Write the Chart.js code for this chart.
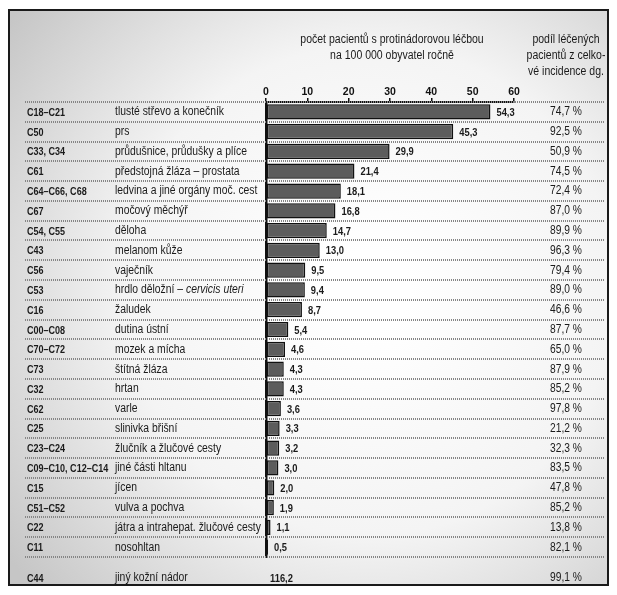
<!DOCTYPE html>
<html>
<head>
<meta charset="utf-8">
<script src="https://cdn.jsdelivr.net/npm/chart.js@4.4.1/dist/chart.umd.min.js"></script>
<style>
  html, body { margin: 0; padding: 0; background: #fff; }
  #wrap { width: 617px; height: 595px; }
</style>
</head>
<body>
<div id="wrap"><canvas id="resultsChart" width="617" height="595"></canvas></div>
<script>
// Diagnosis codes, names, treated patients per 100 000 and share of incidence
const codes = ['C18–C21', 'C50', 'C33, C34', 'C61', 'C64–C66, C68', 'C67', 'C54, C55', 'C43',
  'C56', 'C53', 'C16', 'C00–C08', 'C70–C72', 'C73', 'C32', 'C62', 'C25', 'C23–C24',
  'C09–C10, C12–C14', 'C15', 'C51–C52', 'C22', 'C11'];
// text after "|" is set in italics
const names = ['tlusté střevo a konečník', 'prs', 'průdušnice, průdušky a plíce',
  'předstojná žláza – prostata', 'ledvina a jiné orgány moč. cest', 'močový měchýř', 'děloha',
  'melanom kůže', 'vaječník', 'hrdlo děložní – |cervicis uteri', 'žaludek', 'dutina ústní',
  'mozek a mícha', 'štítná žláza', 'hrtan', 'varle', 'slinivka břišní', 'žlučník a žlučové cesty',
  'jiné části hltanu', 'jícen', 'vulva a pochva', 'játra a intrahepat. žlučové cesty', 'nosohltan'];
const patients = [54.3, 45.3, 29.9, 21.4, 18.1, 16.8, 14.7, 13.0, 9.5, 9.4, 8.7, 5.4, 4.6, 4.3,
  4.3, 3.6, 3.3, 3.2, 3.0, 2.0, 1.9, 1.1, 0.5];
const shares = [74.7, 92.5, 50.9, 74.5, 72.4, 87.0, 89.9, 96.3, 79.4, 89.0, 46.6, 87.7, 65.0,
  87.9, 85.2, 97.8, 21.2, 32.3, 83.5, 47.8, 85.2, 13.8, 82.1];
const xTicks = [0, 10, 20, 30, 40, 50, 60];

// skin tumours other than melanoma, listed under the table without a bar
const extraRow = { code: 'C44', name: 'jiný kožní nádor', patients: 116.2, share: 99.1 };

const axisTitle = ['počet pacientů s protinádorovou léčbou', 'na 100 000 obyvatel ročně'];
const shareTitle = ['podíl léčených', 'pacientů z celko-', 'vé incidence dg.'];

const FONT = '"Liberation Sans", Arial, sans-serif';
const comma = (v) => v.toFixed(1).replace('.', ',');

// condensed text: plain Arial metrics squeezed horizontally
function narrowText(ctx, text, x, y, font, sx, align) {
  ctx.save();
  ctx.font = font;
  ctx.textAlign = align || 'left';
  ctx.translate(x, y);
  ctx.scale(sx, 1);
  ctx.fillText(text, 0, 0);
  const w = ctx.measureText(text).width * sx;
  ctx.restore();
  return w;
}

const tablePlugin = {
  id: 'table',
  beforeDraw(chart) {
    const ctx = chart.ctx;
    ctx.save();
    ctx.fillStyle = '#fff';
    ctx.fillRect(0, 0, chart.width, chart.height);
    const g = ctx.createRadialGradient(370, 290, 40, 370, 290, 450);
    g.addColorStop(0, '#ffffff');
    g.addColorStop(0.5, '#f4f4f4');
    g.addColorStop(1, '#c6c6c6');
    ctx.fillStyle = g;
    ctx.fillRect(9, 10, 599, 575);
    ctx.strokeStyle = '#1a1a1a';
    ctx.lineWidth = 2;
    ctx.strokeRect(9, 10, 599, 575);
    ctx.restore();
  },
  beforeDatasetsDraw(chart) {
    const ctx = chart.ctx;
    const y = chart.scales.y;
    const rowH = (y.bottom - y.top) / codes.length;
    ctx.save();
    ctx.strokeStyle = '#858585';
    ctx.lineWidth = 2;
    ctx.setLineDash([1, 1]);
    for (let i = 0; i <= codes.length; i++) {
      const py = Math.round(y.top + i * rowH);
      ctx.beginPath();
      ctx.moveTo(25, py);
      ctx.lineTo(605, py);
      ctx.stroke();
    }
    ctx.restore();
  },
  afterDatasetsDraw(chart) {
    const ctx = chart.ctx;
    const x = chart.scales.x;
    const y = chart.scales.y;
    const shareX = 566;
    const nameFont = '12.5px ' + FONT;
    const codeFont = 'bold 11px ' + FONT;
    const valueFont = 'bold 11px ' + FONT;
    ctx.save();
    ctx.textBaseline = 'middle';
    ctx.fillStyle = '#1a1a1a';

    const drawRow = (code, name, py) => {
      narrowText(ctx, code, 27, py + 1, codeFont, 0.82);
      const parts = name.split('|');
      const w = narrowText(ctx, parts[0], 115, py, nameFont, 0.83);
      if (parts[1]) narrowText(ctx, parts[1], 115 + w, py, 'italic ' + nameFont, 0.83);
    };

    codes.forEach((code, i) => {
      const py = y.getPixelForValue(i);
      drawRow(code, names[i], py);
      // value next to the bar end
      narrowText(ctx, comma(patients[i]), x.getPixelForValue(patients[i]) + 6, py + 1, valueFont, 0.85);
      narrowText(ctx, comma(shares[i]) + ' %', shareX, py, nameFont, 0.82, 'center');
    });

    // extra row below the table
    const ey = y.bottom + 21;
    drawRow(extraRow.code, extraRow.name, ey);
    narrowText(ctx, comma(extraRow.patients), x.getPixelForValue(0) + 4, ey + 1, valueFont, 0.85);
    narrowText(ctx, comma(extraRow.share) + ' %', shareX, ey, nameFont, 0.82, 'center');

    // column headers
    const midX = (x.left + x.right) / 2 + 2;
    axisTitle.forEach((t, i) => narrowText(ctx, t, midX, 40 + i * 16, nameFont, 0.84, 'center'));
    shareTitle.forEach((t, i) => narrowText(ctx, t, shareX, 40 + i * 16, nameFont, 0.84, 'center'));
    ctx.restore();
  }
};

const ctx = document.getElementById('resultsChart').getContext('2d');
window.myChart = new Chart(ctx, {
  type: 'bar',
  data: {
    labels: codes,
    datasets: [{
      data: patients,
      backgroundColor: '#5c5c5c',
      borderColor: '#111',
      borderWidth: 1.5,
      borderSkipped: false,
      barPercentage: 0.77,
      categoryPercentage: 1
    }]
  },
  options: {
    indexAxis: 'y',
    responsive: false,
    animation: false,
    layout: { padding: { left: 266, right: 103, top: 0, bottom: 38 } },
    plugins: { legend: { display: false }, tooltip: { enabled: false } },
    scales: {
      x: {
        position: 'top',
        min: 0,
        max: 60,
        afterBuildTicks(scale) { scale.ticks = xTicks.map(v => ({ value: v })); },
        ticks: { color: '#111', padding: 0, font: { family: FONT, size: 10.5, weight: 'bold' } },
        grid: { drawOnChartArea: false, drawTicks: true, tickLength: 4, color: '#111', lineWidth: 1.5 },
        border: { display: true, color: '#111', width: 2 },
        afterFit(scale) { scale.height = 102; }
      },
      y: {
        ticks: { display: false },
        grid: { display: false },
        border: { display: true, color: '#111', width: 2.5 },
        afterFit(scale) { scale.width = 0; }
      }
    }
  },
  plugins: [tablePlugin]
});
</script>
</body>
</html>
